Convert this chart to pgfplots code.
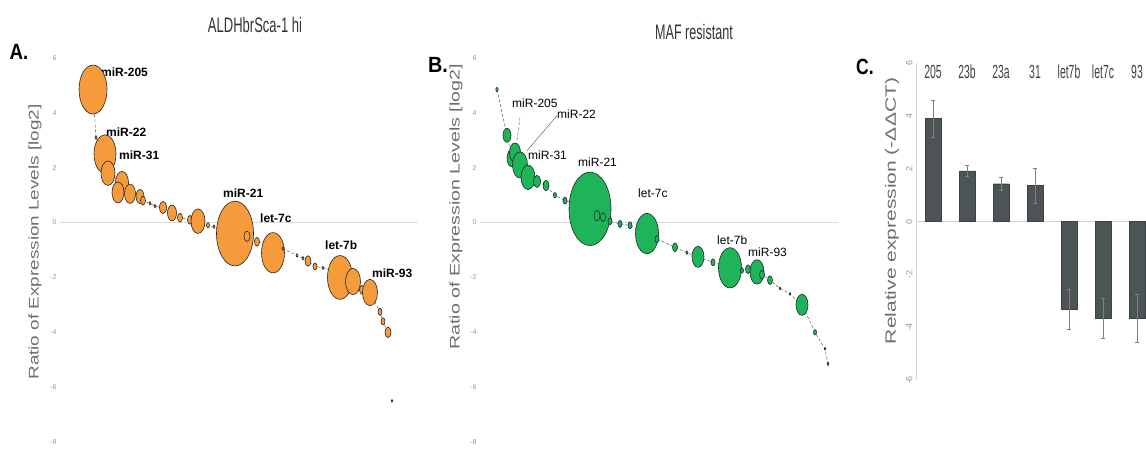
\documentclass[border=0pt]{standalone}
\usepackage{fontspec}
\setmainfont{Liberation Sans}
\usepackage{graphicx}
\usepackage{pgfplots}
\usepackage{pgfplotstable}
\pgfplotsset{compat=1.18}
\definecolor{orA}{RGB}{245,155,60}
\definecolor{grB}{RGB}{30,180,90}
\definecolor{barC}{RGB}{76,84,86}
\definecolor{tickG}{RGB}{150,150,150}
\definecolor{labG}{RGB}{110,110,110}

\pgfplotstableread{
x y r
33 4.85 14
36 3.1 1
45 2.5 11
48 1.8 7
62 1.45 6.5
58 1.1 6
70 1.05 5.5
80 0.95 4
83 0.8 2.5
90 0.7 1
95 0.6 1
103 0.55 3.5
112 0.35 4.5
120 0.18 2.5
130 0.1 2.5
138 0.05 7
148 -0.1 1.5
154 -0.15 1
160 -0.2 2
175 -0.4 18.5
187 -0.5 3
197 -0.7 2.5
207 -0.75 2
213 -1.1 11.5
223 -0.95 1
237 -1.2 1
243 -1.3 1
248 -1.4 3
255 -1.6 2
263 -1.65 1
272 -1.75 2.5
280 -2.0 12.5
293 -2.15 7.5
302 -2.45 2.5
310 -2.55 7.5
320 -3.25 2
323 -3.6 2
328 -4.0 3
332 -6.5 0.8
}\dataA

\pgfplotstableread{
x y r
17 4.85 1.2
27 3.18 4
32 2.35 5
35 2.55 5.5
40 2.1 7.5
48 1.65 7
57 1.5 3.5
66 1.35 3
75 1.0 1.5
85 0.8 2
110 0.5 21
117 0.25 3
123 0.2 2.5
130 0.05 2
140 -0.05 2
150 -0.1 2
167 -0.4 11.5
177 -0.6 2
195 -0.9 2.5
207 -1.1 1
218 -1.25 6
233 -1.45 2
250 -1.65 11.5
262 -1.75 1.5
268 -1.7 2.5
277 -1.8 7
282 -1.9 2.5
290 -2.1 2.5
300 -2.4 0.8
310 -2.6 0.8
322 -3.0 6
335 -4.0 1.5
345 -4.6 0.8
348 -5.15 1
}\dataB

\pgfplotstableread{
x y e
0 3.9 0.7
1 1.92 0.2
2 1.43 0.25
3 1.36 0.65
4 -3.33 0.75
5 -3.67 0.75
6 -3.67 0.9
}\dataC

\pgfplotsset{
  panel/.style={scale only axis, clip=false, anchor=south west,
    axis line style={draw=none}, tick style={draw=none},
    xtick=\empty, ytick={-8,-6,...,6}, ymin=-8, ymax=6, xmin=0, xmax=358,
    width=358pt, height=384pt,
    yticklabel style={font=\fontsize{7}{8}\selectfont, text=tickG},
    /pgf/number format/assume math mode=true,
    extra y ticks={0}, extra y tick labels={},
    extra y tick style={grid=major, major grid style={gray!30, line width=0.6pt}}},
  bubble/.style={scatter, only marks, mark=*,
    scatter/use mapped color={draw=black!85, fill=#1},
    visualization depends on={\thisrow{r} \as \rad},
    scatter/@pre marker code/.append style={/tikz/mark size=\rad},
    mark options={yscale=1.75, line width=0.6pt}},
  conn/.style={black!75, densely dashed, line width=0.4pt},
}

\begin{document}
\begin{tikzpicture}
\useasboundingbox (0,0) rectangle (1146pt,449pt);

% Panel A
\begin{axis}[panel, at={(60pt,7pt)}]
\addplot[conn, restrict x to domain=0:330] table[x=x,y=y] {\dataA};
\addplot[bubble=orA] table[x=x,y=y] {\dataA};
\begin{scope}[font=\bfseries\fontsize{12}{13}\selectfont, anchor=west, inner sep=0pt]
\node[anchor=west] at (axis cs:41,5.47) {miR-205};
\node[anchor=west] at (axis cs:46,3.28) {miR-22};
\node[anchor=west] at (axis cs:59,2.44) {miR-31};
\node[anchor=west] at (axis cs:163,1.06) {miR-21};
\node[anchor=west] at (axis cs:200,0.15) {let-7c};
\node[anchor=west] at (axis cs:265,-0.84) {let-7b};
\node[anchor=west] at (axis cs:312,-1.86) {miR-93};
\end{scope}
\end{axis}

% Panel B
\begin{axis}[panel, at={(480pt,7pt)}]
\addplot[conn] table[x=x,y=y] {\dataB};
\addplot[bubble=grB] table[x=x,y=y] {\dataB};
\draw[black!70, densely dashed, line width=0.4pt] (axis cs:40,3.83) -- (axis cs:37,2.99);
\draw[black!70, line width=0.4pt] (axis cs:77,3.9) -- (axis cs:47,2.62);
\begin{scope}[font=\fontsize{12}{13}\selectfont, inner sep=0pt]
\node[anchor=west] at (axis cs:32,4.34) {miR-205};
\node[anchor=west] at (axis cs:77,3.97) {miR-22};
\node[anchor=west] at (axis cs:48,2.44) {miR-31};
\node[anchor=west] at (axis cs:98,2.19) {miR-21};
\node[anchor=west] at (axis cs:158,1.06) {let-7c};
\node[anchor=west] at (axis cs:237,-0.66) {let-7b};
\node[anchor=west] at (axis cs:268,-1.09) {miR-93};
\end{scope}
\end{axis}

% Panel C
\begin{axis}[scale only axis, clip=false, anchor=south west, at={(916pt,69pt)},
  width=229.5pt, height=317pt, xmin=-0.5, xmax=6.25, ymin=-6, ymax=6,
  axis line style={draw=none}, tick style={draw=none},
  ytick={-6,-4,...,6},
  yticklabel style={font=\fontsize{9}{10}\selectfont, text=tickG, rotate=90, anchor=south},
  /pgf/number format/assume math mode=true,
  xtick={0,...,6}, xticklabels={205,23b,23a,31,let7b,let7c,93},
  xticklabel pos=right,
  xticklabel style={anchor=center, yshift=-9pt, text=black!75,
    font=\fontsize{19}{20}\selectfont, xscale=0.55},
  extra y ticks={0}, extra y tick labels={},
  extra y tick style={grid=major, major grid style={gray!35, line width=0.6pt}}]
\draw[gray!35, line width=0.6pt] (rel axis cs:0,0) -- (rel axis cs:0,1);
\addplot[ybar, bar width=16pt, fill=barC, draw=barC!80!black,
  error bars/.cd, y dir=both, y explicit,
  error bar style={gray, line width=0.5pt},
  error mark options={rotate=90, gray, mark size=2pt}]
  table[x=x, y=y, y error=e] {\dataC};
\end{axis}

% Titles, letters, axis labels
\node[font=\fontsize{21}{22}\selectfont, text=black!80] at (255pt,424pt) {\scalebox{0.62}[1]{ALDHbrSca-1 hi}};
\node[font=\fontsize{21}{22}\selectfont, text=black!80] at (694pt,417pt) {\scalebox{0.6}[1]{MAF resistant}};
\node[font=\bfseries\fontsize{22}{23}\selectfont] at (19pt,397pt) {\scalebox{0.85}[1]{A.}};
\node[font=\bfseries\fontsize{22}{23}\selectfont] at (438pt,384pt) {\scalebox{0.9}[1]{B.}};
\node[font=\bfseries\fontsize{22}{23}\selectfont] at (865pt,382pt) {\scalebox{0.8}[1]{C.}};
\node[rotate=90, font=\fontsize{14}{15}\selectfont, text=labG] at (35pt,207pt) {\scalebox{1.35}[1]{Ratio of Expression Levels [log2]}};
\node[rotate=90, font=\fontsize{14}{15}\selectfont, text=labG] at (456pt,242pt) {\scalebox{1.4}[1]{Ratio of Expression Levels [log2]}};
\node[rotate=90, font=\fontsize{15}{16}\selectfont, text=labG] at (892pt,238pt) {\scalebox{1.4}[1]{Relative expression (-ΔΔCT)}};
\end{tikzpicture}
\end{document}
